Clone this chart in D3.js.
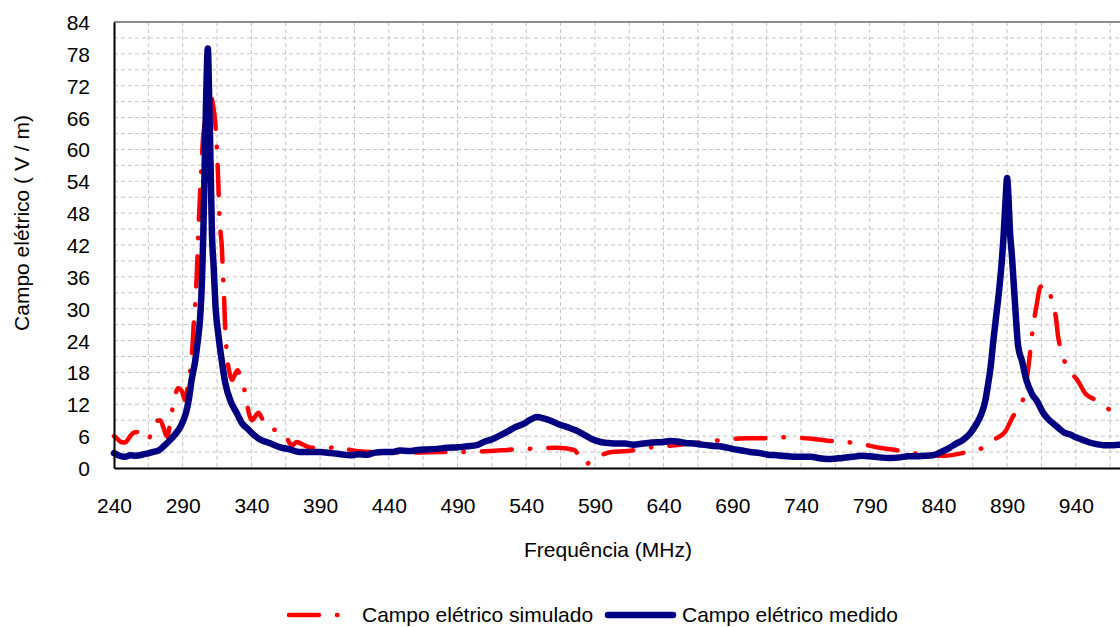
<!DOCTYPE html>
<html lang="pt">
<head>
<meta charset="utf-8">
<title>Campo elétrico</title>
<script src="https://cdn.jsdelivr.net/npm/d3@7"></script>
<style>
  body { margin: 0; background: #fff; }
  svg { display: block; font-family: "Liberation Sans", Arial, sans-serif; }
  .grid line { stroke: #c4c4c4; stroke-width: 1; stroke-dasharray: 4, 3; }
  .title { font-size: 21px; fill: #000; }
  .simulado { fill: none; stroke: #ff0000; stroke-width: 4.5; stroke-linecap: round; stroke-linejoin: round; stroke-dasharray: 30, 18, 0.5, 18; }
  .medido { fill: none; stroke: #000080; stroke-width: 6.5; stroke-linecap: round; stroke-linejoin: round; }
</style>
</head>
<body>
<script>
// tick labels
var xTicks = [240, 290, 340, 390, 440, 490, 540, 590, 640, 690, 740, 790, 840, 890, 940];
var yTicks = [0, 6, 12, 18, 24, 30, 36, 42, 48, 54, 60, 66, 72, 78, 84];

// Campo elétrico medido (MHz, V/m)
var freqMedido = [240, 244, 248, 252, 256, 262, 268, 273, 277, 281, 285, 288, 290.5, 292.5, 294.5, 296.5,
  299, 301, 302.6, 304, 305, 306, 307, 308.3, 309.3, 310.3, 311.3, 312.5, 314, 316, 318, 321, 325, 329, 333,
  338, 342, 346, 353, 361, 368, 375, 382, 390, 398, 405, 412, 418, 424, 430, 436, 442, 448, 455, 461, 468,
  475, 482, 490, 497, 504, 510, 514, 520, 526, 532, 538, 543, 548, 552, 557, 563, 570, 576, 582, 588, 594,
  600, 606, 612, 618, 625, 632, 640, 645, 650, 656, 662, 668, 675, 683, 690, 697, 703, 710, 716, 722, 730,
  739, 747, 755, 762, 770, 778, 784, 790, 797, 805, 812, 818, 824, 830, 836, 842, 848, 853, 858, 863, 867,
  871, 874, 876, 878, 880, 882, 884, 886, 887.5, 889, 890, 891, 892, 893.5, 895, 896.5, 898, 901, 904, 908,
  912, 916, 920, 924, 928, 932, 936, 940, 945, 950, 955, 960, 966, 972, 980];
var campoMedido = [2.8, 2.3, 2.1, 2.4, 2.3, 2.6, 3.0, 3.4, 4.3, 5.3, 6.5, 7.6, 9, 10.5, 13, 16.6,
  20, 24, 28, 35, 44, 57, 69, 79, 69, 57, 44, 38, 30, 25, 21, 16, 12.5, 10.5, 8.5,
  7.2, 6.2, 5.4, 4.7, 3.9, 3.5, 3.0, 3.0, 3.0, 2.8, 2.6, 2.4, 2.6, 2.5, 2.9, 3.0, 3.0, 3.3, 3.2, 3.4, 3.5,
  3.6, 3.8, 3.9, 4.1, 4.3, 5.0, 5.3, 6.0, 6.8, 7.7, 8.3, 9.1, 9.6, 9.4, 9.0, 8.3, 7.7, 7.1, 6.3, 5.4, 4.9,
  4.7, 4.6, 4.6, 4.4, 4.6, 4.8, 4.9, 5.1, 5.0, 4.7, 4.6, 4.4, 4.2, 4.0, 3.6, 3.3, 3.0, 2.8, 2.5, 2.4, 2.2,
  2.1, 2.1, 1.8, 1.7, 1.9, 2.1, 2.3, 2.2, 2.0, 1.9, 2.0, 2.2, 2.2, 2.3, 2.4, 3.0, 3.8, 4.6, 5.3, 6.5, 8.0,
  10.0, 12.5, 15.5, 19, 24, 28.5, 33, 38.5, 44, 51, 54.6, 51, 45, 40, 34, 28, 23, 20, 16.6, 14,
  12.5, 10.5, 9.2, 8.3, 7.4, 6.6, 6.3, 5.8, 5.3, 4.8, 4.5, 4.3, 4.3, 4.4, 4.4];

// Campo elétrico simulado (MHz, V/m)
var freqSimulado = [240, 242, 245, 248, 251, 254, 257, 260, 264.7, 268, 270.5, 273.5, 276, 278.6, 282, 284,
  286.6, 289.5, 291.7, 293.5, 295.3, 297, 298, 299, 300, 300.8, 301.5, 302.5, 303.5, 304.5, 306, 308, 310,
  312, 313.5, 314.5, 315.2, 316, 316.5, 317.2, 318.5, 319.3, 320, 320.8, 321.5, 322.5, 324, 326, 328, 330,
  332, 334, 336.5, 338.5, 340.5, 342.5, 345, 348, 351.5, 355, 359.5, 363, 366, 368, 370, 373, 376, 380, 384,
  396, 404, 412, 420, 440, 460, 475, 490, 514, 526, 538, 550, 562, 575, 579, 583, 589, 595, 602, 614, 628,
  640, 652, 676, 700, 712, 725, 748, 761, 773, 786, 797, 809, 821, 833, 845, 857, 869, 875, 880, 885, 888.5,
  894, 901, 904.5, 906.7, 908, 911.7, 914, 917, 919.8, 923, 925.6, 927, 930, 933.6, 937, 941, 947.4, 953,
  959, 965, 972, 980];
var campoSimulado = [6.0, 5.6, 4.9, 4.8, 5.7, 6.6, 6.8, 6.0, 5.2, 7.5, 8.8, 9.0, 7.6, 5.9, 10.4, 13,
  15, 14.4, 12.8, 15, 17.9, 22.5, 27, 30.5, 35, 40, 45, 51, 56, 61, 65, 69, 70.5,
  68.5, 65.5, 62, 58.5, 53, 49, 45.4, 41.6, 36.5, 33, 27, 23.7, 20.5, 18, 16.6, 17.6, 18.4,
  17.0, 15.8, 12.5, 10, 9, 9.6, 10.4, 9.2, 7.7, 7.2, 7.2, 6.6, 5.6, 4.6, 4.3, 4.9, 4.6, 4.1, 3.8,
  3.8, 4.0, 3.4, 3.1, 2.9, 2.9, 3.0, 3.0, 3.2, 3.4, 3.6, 3.7, 3.8, 3.4, 2.0, 0.6, 1.9, 2.5, 3.0, 3.2, 3.8,
  4.1, 4.4, 5.1, 5.6, 5.6, 5.8, 5.5, 5.1, 4.9, 4.4, 3.8, 3.4, 2.8, 2.5, 2.3, 2.8, 3.4, 4.3, 5.3, 6.0, 6.8,
  9.6, 12.4, 17.1, 21.6, 24.7, 31, 34, 34.5, 34, 31, 28.2, 25, 21.6, 19, 17.8, 16.6, 13.9, 13,
  12.2, 10.9, 10.4, 10.2];

var W = 1120, H = 627;
var plotLeft = 114, plotTop = 22, plotBottom = 468;

var x = d3.scaleLinear().domain([240, 990]).range([plotLeft, plotLeft + 750 * 68.7 / 50]);
var y = d3.scaleLinear().domain([0, 84]).range([plotBottom, plotTop]);

var svg = d3.select("body").append("svg").attr("width", W).attr("height", H);

// grid, every 25 MHz and every 3 V/m
var gx = d3.range(265, 990, 25), gy = d3.range(3, 84, 3);
var grid = svg.append("g").attr("class", "grid");
grid.selectAll(".gv").data(gx).enter().append("line")
  .attr("x1", d => x(d)).attr("x2", d => x(d)).attr("y1", plotTop).attr("y2", plotBottom);
grid.selectAll(".gh").data(gy).enter().append("line")
  .attr("x1", plotLeft).attr("x2", x(990)).attr("y1", d => y(d)).attr("y2", d => y(d));

// frame top
svg.append("line").attr("x1", plotLeft).attr("x2", x(990)).attr("y1", plotTop).attr("y2", plotTop)
  .attr("stroke", "#8c8c8c").attr("stroke-width", 2);

var toPts = function(fs, vs) { return fs.map((f, i) => [f, vs[i]]); };
var line = d3.line().x(d => x(d[0])).y(d => y(d[1])).curve(d3.curveMonotoneX);

svg.append("path").datum(toPts(freqSimulado, campoSimulado)).attr("class", "simulado").attr("d", line);
svg.append("path").datum(toPts(freqMedido, campoMedido)).attr("class", "medido").attr("d", line);

// axes
var xAxis = d3.axisBottom(x).tickValues(xTicks).tickSize(0).tickPadding(0);
var yAxis = d3.axisLeft(y).tickValues(yTicks).tickSize(0).tickPadding(0);

var gxa = svg.append("g").attr("transform", "translate(0," + plotBottom + ")").call(xAxis);
gxa.select(".domain").attr("stroke", "#000").attr("stroke-width", 2);
gxa.selectAll("text").attr("dy", null).attr("y", 45).attr("fill", "#000")
  .style("font-size", "21px").style("font-family", "'Liberation Sans', Arial, sans-serif");

var gya = svg.append("g").attr("transform", "translate(" + plotLeft + ",0)").call(yAxis);
gya.select(".domain").attr("stroke", "#000").attr("stroke-width", 2);
gya.selectAll("text").attr("x", -24).attr("dy", "0.36em").attr("fill", "#000")
  .style("font-size", "21px").style("font-family", "'Liberation Sans', Arial, sans-serif");

// titles
svg.append("text").attr("class", "title").attr("x", 608).attr("y", 557)
  .attr("text-anchor", "middle").text("Frequência (MHz)");
svg.append("text").attr("class", "title").attr("transform", "translate(29,223) rotate(-90)")
  .attr("text-anchor", "middle").text("Campo elétrico ( V / m)");

// legend
var ly = 615;
svg.append("line").attr("class", "simulado").attr("x1", 289).attr("x2", 341).attr("y1", ly).attr("y2", ly);
svg.append("text").attr("class", "title").attr("x", 362).attr("y", ly + 7).text("Campo elétrico simulado");
svg.append("line").attr("class", "medido").attr("x1", 608).attr("x2", 673).attr("y1", ly).attr("y2", ly);
svg.append("text").attr("class", "title").attr("x", 682).attr("y", ly + 7).text("Campo elétrico medido");
</script>
</body>
</html>
